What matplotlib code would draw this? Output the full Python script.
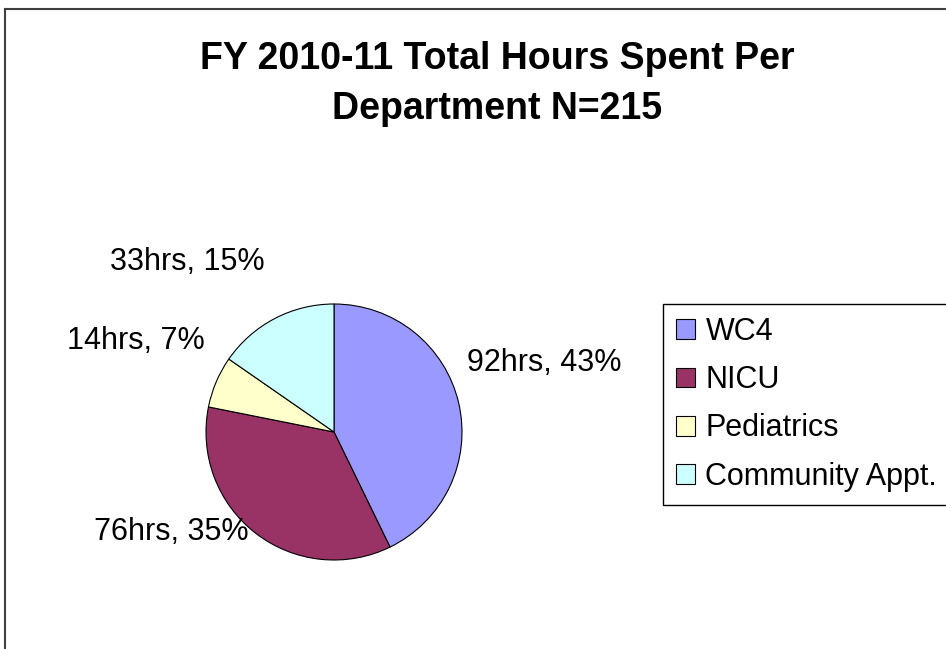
import matplotlib
matplotlib.use("Agg")
import matplotlib.pyplot as plt
from matplotlib.lines import Line2D

plt.rcParams['font.family'] = ['Liberation Sans', 'DejaVu Sans']

departments = ['WC4', 'NICU', 'Pediatrics', 'Community Appt.']
hours = [92, 76, 14, 33]
colors = ['#9999FF', '#993366', '#FFFFCC', '#CCFFFF']
title = "FY 2010-11 Total Hours Spent Per\nDepartment N=215"

# label anchor positions in pie-radius units (Excel-style placement)
label_pos = [(1.04, 0.54, 'left'), (-0.67, -0.78, 'right'),
             (-1.01, 0.71, 'right'), (-0.54, 1.33, 'right')]

W, H = 946, 649
fig = plt.figure(figsize=(W / 100, H / 100), dpi=100)

# chart area border (left and top visible)
fig.add_artist(Line2D([5 / W, 5 / W], [0, 1 - 9 / H], color='#404040', lw=1.5))
fig.add_artist(Line2D([5 / W, 1], [1 - 9 / H, 1 - 9 / H], color='#404040', lw=1.5))

# pie centred at (334, 432) px with radius 128 px
cx, cy, r, half = 334, H - 432, 128, 200
ax = fig.add_axes([(cx - half) / W, (cy - half) / H, 2 * half / W, 2 * half / H])

wedges, _ = ax.pie(hours, colors=colors, startangle=90, counterclock=False,
                   radius=1, wedgeprops=dict(edgecolor='black', linewidth=0.8),
                   frame=True)
ax.set_xlim(-half / r, half / r)
ax.set_ylim(-half / r, half / r)
ax.axis('off')

total = sum(hours)
for h, (x, y, ha) in zip(hours, label_pos):
    ax.text(x, y, f"{h}hrs, {round(100 * h / total)}%", ha=ha, va='center', fontsize=22)

fig.text(497 / W, 1 - 84 / H, title, ha='center', va='center', fontsize=27,
         fontweight='bold', linespacing=1.5)

leg = fig.legend(wedges, departments, loc='upper left',
                 bbox_to_anchor=(663 / W, 1 - 304 / H), fontsize=22,
                 frameon=True, fancybox=False, edgecolor='black', framealpha=1,
                 handlelength=0.62, handleheight=0.62, handletextpad=0.35,
                 labelspacing=0.6, borderpad=0.42, borderaxespad=0)
leg.get_frame().set_linewidth(1.0)

fig.savefig('out.png', dpi=100)
